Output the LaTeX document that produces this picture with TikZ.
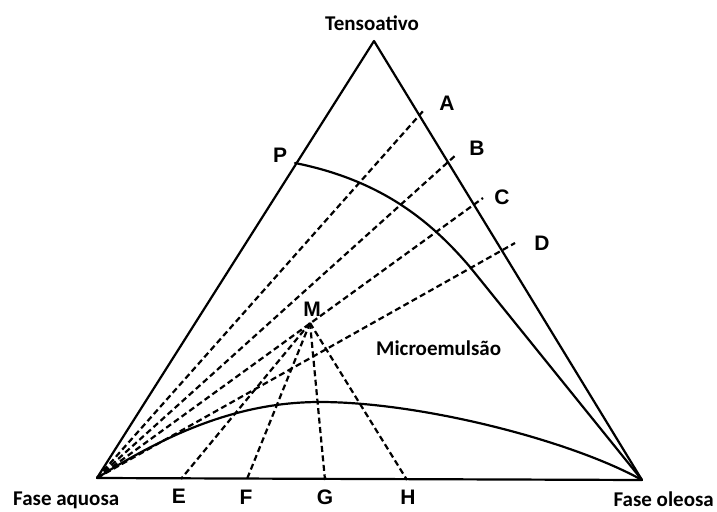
\documentclass[tikz,border=0pt]{standalone}
\usepackage{fontspec}
\setmainfont{Carlito}
\newfontfamily\letterfont{Liberation Sans}
\usetikzlibrary{positioning}

\begin{document}
\begin{tikzpicture}[x=1pt,y=-1pt,
 phase/.style={font=\fontsize{21}{24}\selectfont\bfseries,inner sep=0pt},
 point/.style={font=\letterfont\fontsize{21}{24}\selectfont\bfseries,inner sep=0pt},
 side/.style={line width=2.2pt,line join=round,line cap=round},
 tie/.style={line width=2.2pt,dash pattern=on 6pt off 3.5pt}]
\useasboundingbox (0,0) rectangle (717,511);
% vertices of the triangle
\coordinate (W) at (97,478);
\coordinate (O) at (642,480);
\coordinate (T) at (374,41);
\coordinate (pP) at (295,163);
\coordinate (pM) at (310,323);
% ends of the tie lines
\coordinate (pA) at (424,110);
\coordinate (pB) at (457,154);
\coordinate (pC) at (483,198);
\coordinate (pD) at (515,243);
\coordinate (pE) at (181,479);
\coordinate (pF) at (247,479);
\coordinate (pG) at (325,480);
\coordinate (pH) at (407,480);
\node[phase,anchor=base] (tenso) at (372,31) {Tensoativo};
\node[phase,anchor=base west] (aquosa) at (13,505) {Fase aquosa};
\node[phase,anchor=base east] (oleosa) at (714,506) {Fase oleosa};
\node[phase,anchor=base west] (micro) at (376,355) {Microemulsão};
\node[point] (lA) at (447,103) {A};
\node[point] (lB) at (477,148) {B};
\node[point] (lC) at (502,197) {C};
\node[point] (lD) at (542,243) {D};
\node[point] (lP) at (280,155) {P};
\node[point] (lM) at (312,309) {M};
\node[point] (lE) at (179,496) {E};
\node[point] (lF) at (246,497) {F};
\node[point] (lG) at (325,497) {G};
\node[point] (lH) at (408,497) {H};
\draw[side] (W) -- (T) -- (O) -- cycle;
\draw[side] (pP) .. controls (380,180) and (430,220) .. (470,267) -- (O);
\draw[side] (W) .. controls (170,432) and (240,402) .. (320,402)
  .. controls (420,402) and (570,440) .. (O);
\foreach \p in {pA,pB,pC,pD}
  \draw[tie] (W) -- (\p);
\foreach \p in {pE,pF,pG,pH}
  \draw[tie] (pM) -- (\p);
\end{tikzpicture}
\end{document}
